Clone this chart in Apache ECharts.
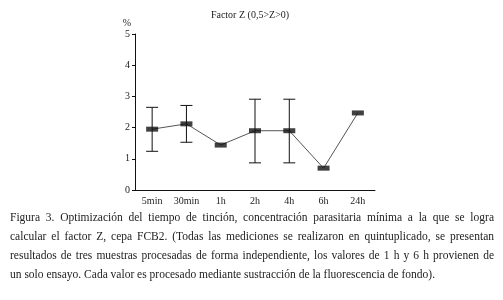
<!DOCTYPE html>
<html>
<head>
<meta charset="utf-8">
<script src="https://cdn.jsdelivr.net/npm/echarts@6/dist/echarts.min.js"></script>
<style>
  html, body { margin: 0; padding: 0; background: #fff; }
  #chart { width: 503px; height: 300px; }
</style>
</head>
<body>
<div id="chart"></div>
<script>
  // datos
  const categories = ['5min', '30min', '1h', '2h', '4h', '6h', '24h']
  const values = [1.95, 2.12, 1.44, 1.90, 1.90, 0.70, 2.47]
  const errLow = [1.24, 1.53, null, 0.87, 0.87, null, null]
  const errHigh = [2.65, 2.71, null, 2.91, 2.91, null, null]
  const yTicks = [0, 1, 2, 3, 4, 5]

  const caption = [
    'Figura 3. Optimización del tiempo de tinción, concentración parasitaria mínima a la que se logra',
    'calcular el factor Z, cepa FCB2. (Todas las mediciones se realizaron en quintuplicado, se presentan',
    'resultados de tres muestras procesadas de forma independiente, los valores de 1 h y 6 h provienen de',
    'un solo ensayo. Cada valor es procesado mediante sustracción de la fluorescencia de fondo).'
  ]

  const font = '"Liberation Serif", "DejaVu Serif", serif'
  const capFont = '11.5px ' + font

  const errData = []
  categories.forEach((c, i) => {
    if (errLow[i] != null) errData.push([i, errLow[i], errHigh[i]])
  })

  // texto justificado del pie de figura (una palabra por elemento)
  const ctx = document.createElement('canvas').getContext('2d')
  ctx.font = capFont
  const capLeft = 10, capRight = 494
  const capText = []
  caption.forEach((line, i) => {
    const words = line.split(' ')
    const y = 212 + i * 19
    if (i === caption.length - 1) {
      capText.push({ type: 'text', x: capLeft, y: y, style: { text: line, font: capFont, fill: '#222' } })
      return
    }
    const widths = words.map(w => ctx.measureText(w).width)
    const total = widths.reduce((a, b) => a + b, 0)
    const gap = (capRight - capLeft - total) / (words.length - 1)
    let x = capLeft
    words.forEach((w, k) => {
      capText.push({ type: 'text', x: x, y: y, style: { text: w, font: capFont, fill: '#222' } })
      x += widths[k] + gap
    })
  })

  let chart = echarts.init(document.getElementById('chart'))
  let option = {
    animation: false,
    backgroundColor: '#fff',
    title: {
      text: 'Factor Z (0,5>Z>0)',
      left: 245,
      textAlign: 'center',
      top: 5,
      textStyle: { fontFamily: font, fontSize: 10, fontWeight: 'normal', color: '#222' }
    },
    grid: { left: 135, right: 128, top: 34, bottom: 110 },
    xAxis: {
      type: 'category',
      data: categories,
      boundaryGap: true,
      axisLine: { lineStyle: { color: '#111', width: 1 } },
      axisTick: { inside: true, length: 3, lineStyle: { color: '#111' } },
      axisLabel: { fontFamily: font, fontSize: 10, color: '#222', margin: 6 }
    },
    yAxis: {
      type: 'value',
      min: 0,
      max: 5,
      interval: 1,
      name: '%',
      nameLocation: 'end',
      nameGap: 6,
      nameTextStyle: { fontFamily: font, fontSize: 10, color: '#222', align: 'right', padding: [0, 4, 0, 0] },
      splitLine: { show: false },
      axisLine: { show: true, lineStyle: { color: '#111', width: 1 } },
      axisTick: { show: true, length: 3, lineStyle: { color: '#111' } },
      axisLabel: {
        fontFamily: font, fontSize: 10, color: '#222', margin: 5,
        formatter: v => yTicks.indexOf(v) >= 0 ? String(v) : ''
      }
    },
    series: [
      {
        type: 'line',
        data: values,
        symbol: 'none',
        lineStyle: { color: '#555', width: 1 },
        z: 2
      },
      {
        type: 'custom',
        data: errData,
        z: 3,
        renderItem: (params, api) => {
          const x = api.value(0)
          const lo = api.coord([x, api.value(1)])
          const hi = api.coord([x, api.value(2)])
          const w = 6
          const st = { stroke: '#111', lineWidth: 1 }
          return {
            type: 'group',
            children: [
              { type: 'line', shape: { x1: lo[0], y1: lo[1], x2: hi[0], y2: hi[1] }, style: st },
              { type: 'line', shape: { x1: lo[0] - w, y1: lo[1], x2: lo[0] + w, y2: lo[1] }, style: st },
              { type: 'line', shape: { x1: hi[0] - w, y1: hi[1], x2: hi[0] + w, y2: hi[1] }, style: st }
            ]
          }
        }
      },
      {
        type: 'scatter',
        data: values,
        symbol: 'rect',
        symbolSize: [12, 5],
        itemStyle: { color: '#111' },
        z: 4
      }
    ],
    graphic: capText
  }
  chart.setOption(option)
</script>
</body>
</html>
